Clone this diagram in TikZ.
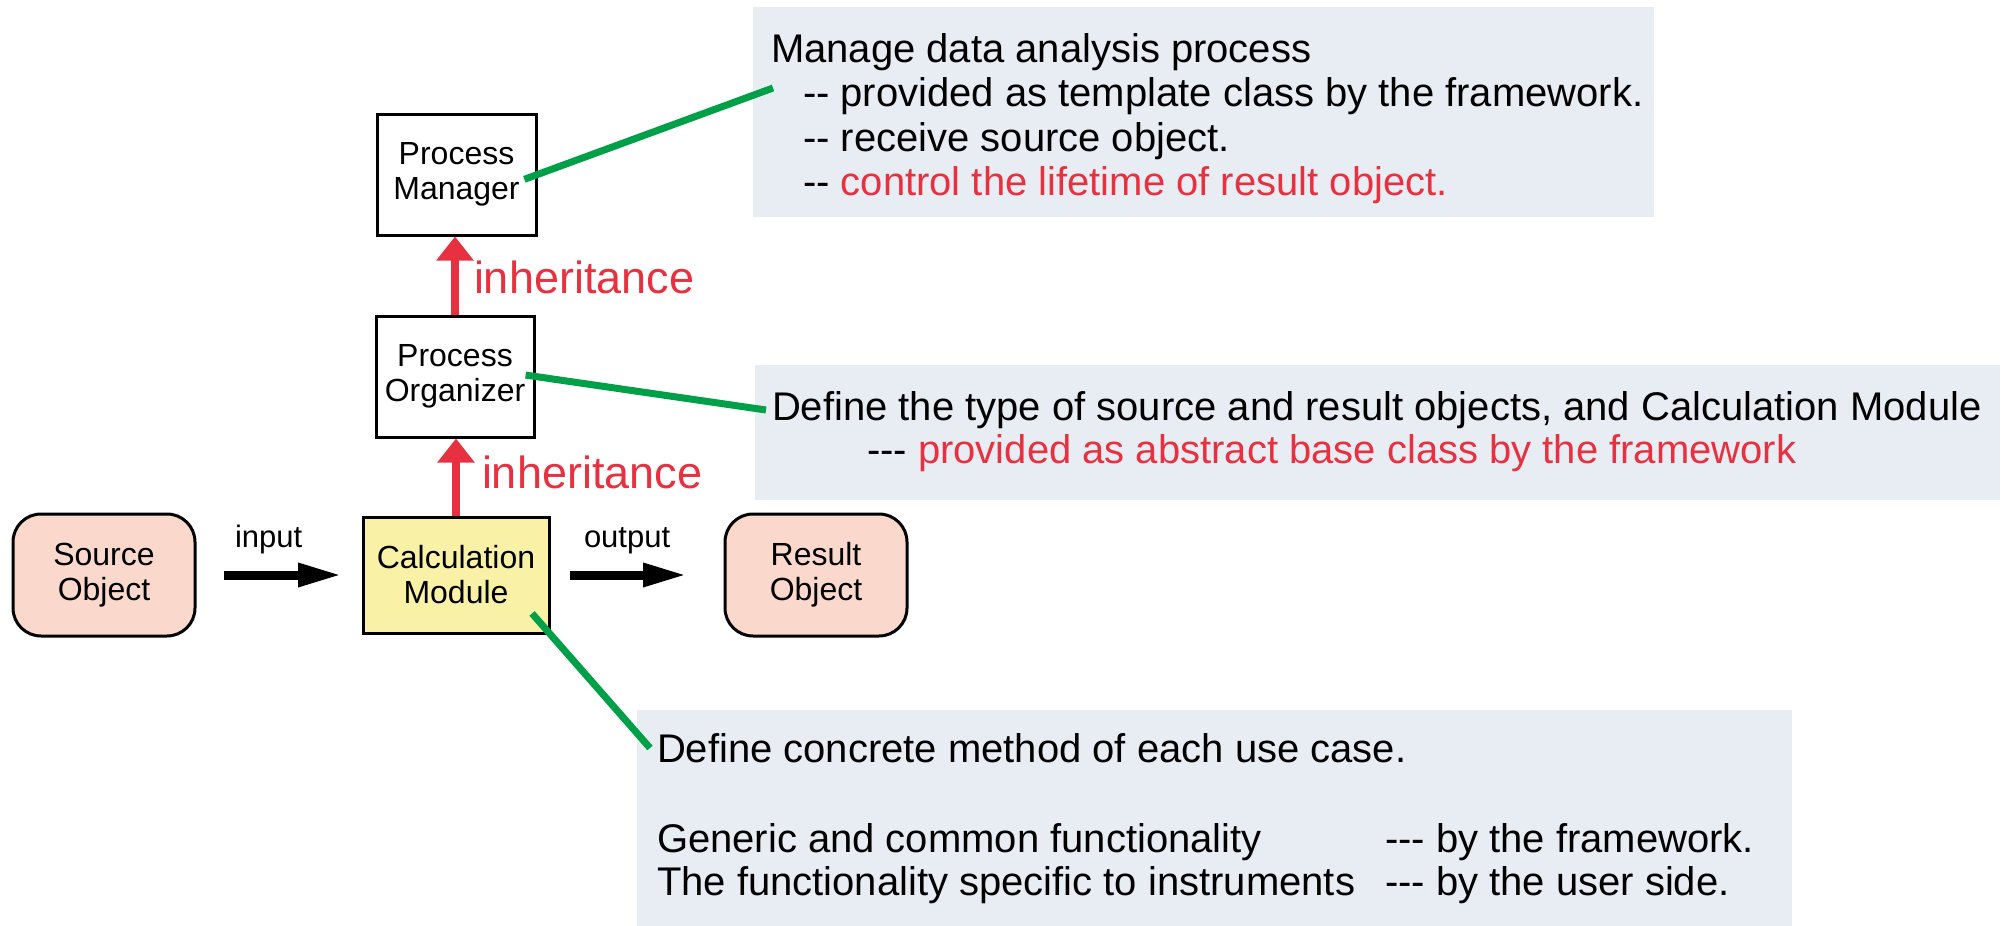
\documentclass[tikz,border=0pt]{standalone}
\usepackage{fontspec}
\setmainfont{Liberation Sans}
\usetikzlibrary{arrows.meta}
\newlength{\du}
\setlength{\du}{0.5pt}

\begin{document}
\begin{tikzpicture}[
  classbox/.style={draw=dialinecolor,line width=1.5pt,fill=white,inner sep=0pt,align=center,
    minimum width=159\du,minimum height=121\du,font=\fontsize{16}{17.5}\selectfont},
  objbox/.style={classbox,rounded corners=28\du,fill=objfillcolor,minimum width=182\du,minimum height=122\du},
  notebox/.style={fill=notefillcolor,inner sep=0pt,outer sep=0pt},
  notetext/.style={anchor=base west,inner sep=0pt,outer sep=0pt,color=dialinecolor,font=\fontsize{20}{22}\selectfont},
  flowlabel/.style={anchor=base west,inner sep=0pt,outer sep=0pt,font=\fontsize{15.5}{17.5}\selectfont},
  inhlabel/.style={anchor=base west,inner sep=0pt,outer sep=0pt,color=inhcolor,font=\fontsize{22.5}{26}\selectfont},
  inharrow/.style={draw=inhcolor,line width=4.25pt,-{Triangle[length=12pt,width=18pt]}},
  flowarrow/.style={draw=dialinecolor,line width=4.5pt,-{Triangle[length=22pt,width=11pt]}},
  noteline/.style={draw=notelinecolor,line width=3.5pt}
]
\pgftransformxscale{1.000000}
\pgftransformyscale{-1.000000}
\definecolor{dialinecolor}{rgb}{0.000000, 0.000000, 0.000000}
\definecolor{inhcolor}{RGB}{232, 49, 64}
\definecolor{notelinecolor}{RGB}{0, 160, 72}
\definecolor{notefillcolor}{RGB}{232, 236, 243}
\definecolor{objfillcolor}{RGB}{250, 216, 204}
\definecolor{modfillcolor}{RGB}{249, 242, 166}
\useasboundingbox (0\du,0\du) rectangle (2008\du,926\du);

% note backgrounds
\node[notebox,minimum width=901\du,minimum height=210\du] (pmnote) at (1203.5\du,112\du) {};
\node[notebox,minimum width=1245\du,minimum height=135\du] (ponote) at (1377.5\du,432.5\du) {};
\node[notebox,minimum width=1155\du,minimum height=216\du] (cmnote) at (1214.5\du,818\du) {};

% class boxes and objects
\node[classbox] (pm) at (456.5\du,174.5\du) {Process\\Manager};
\node[classbox,minimum width=158\du] (po) at (455\du,376.5\du) {Process\\Organizer};
\node[classbox,fill=modfillcolor,minimum width=186\du,minimum height=116\du] (cm) at (456\du,575\du) {Calculation\\Module};
\node[objbox] (src) at (104\du,575\du) {Source\\Object};
\node[objbox] (res) at (816\du,575\du) {Result\\Object};

% inheritance
\draw[inharrow] (po.north) -- (po.north |- pm.south);
\draw[inharrow] (cm.north) -- (cm.north |- po.south);
\node[inhlabel] (inhtop) at (474\du,293\du) {inheritance};
\node[inhlabel] (inhbot) at (482\du,488\du) {inheritance};

% data flow
\draw[flowarrow,shorten <=27.5\du,shorten >=19.5\du] (src) -- (cm);
\draw[flowarrow,shorten <=19.5\du,shorten >=36.5\du] (cm) -- (res);
\node[flowlabel] (inlabel) at (235\du,547\du) {input};
\node[flowlabel] (outlabel) at (584\du,547\du) {output};

% callout lines
\coordinate (pmtip) at (773\du,88\du);
\coordinate (potip) at (766\du,410\du);
\coordinate (cmtip) at (650\du,748\du);
\draw[noteline,shorten <=-14\du] (pm.east) -- (pmtip);
\draw[noteline,shorten <=-10\du] (po.east) -- (potip);
\draw[noteline,shorten <=-28\du] (cm.south east) -- (cmtip);

% setfont left to latex
\node[notetext] (pmline1) at (771\du,62\du) {Manage data analysis process};
\node[notetext] (pmline2) at (803\du,106\du) {-\kern0pt- provided as template class by the framework.};
\node[notetext] (pmline3) at (803\du,151\du) {-\kern0pt- receive source object.};
\node[notetext] (pmline4) at (803\du,195\du) {-\kern0pt- \textcolor{inhcolor}{control the lifetime of result object.}};

\node[notetext] (poline1) at (772\du,420\du) {Define the type of source and result objects, and Calculation Module};
\node[notetext] (poline2) at (867\du,463\du) {-\kern0pt-\kern0pt- \textcolor{inhcolor}{provided as abstract base class by the framework}};

\node[notetext] (cmline1) at (657\du,762\du) {Define concrete method of each use case.};
\node[notetext] (cmline2) at (657\du,852\du) {Generic and common functionality};
\node[notetext] (cmline3) at (657\du,895\du) {The functionality specific to instruments};
\node[notetext] (cmside2) at (1385\du,852\du) {-\kern0pt-\kern0pt- by the framework.};
\node[notetext] (cmside3) at (1385\du,895\du) {-\kern0pt-\kern0pt- by the user side.};
\end{tikzpicture}
\end{document}
